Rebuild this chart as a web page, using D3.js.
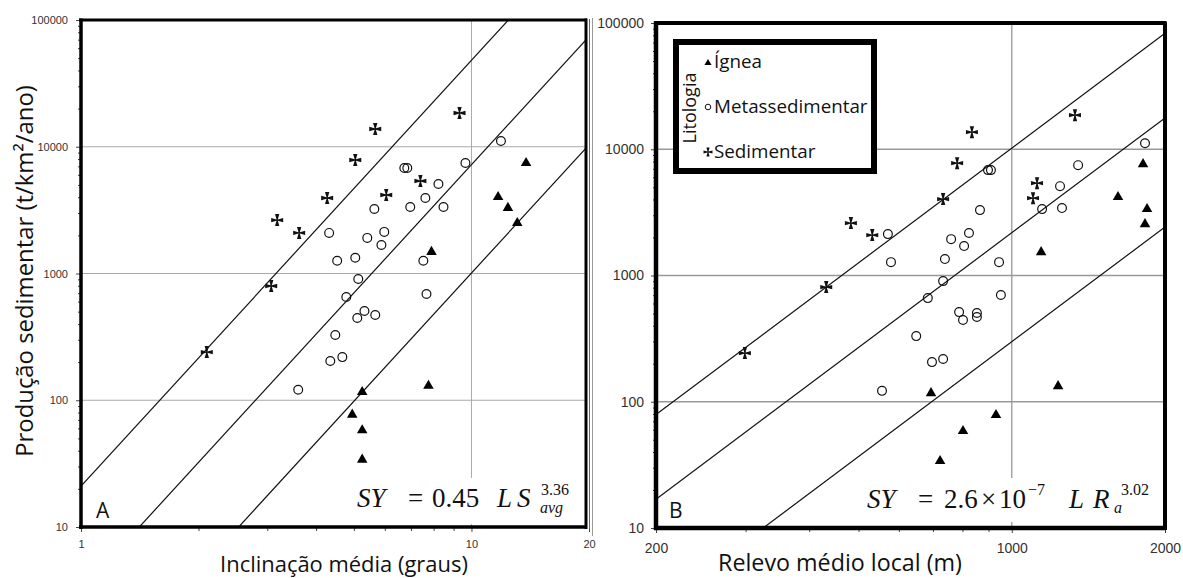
<!DOCTYPE html>
<html>
<head>
<meta charset="utf-8">
<script src="https://cdn.jsdelivr.net/npm/d3@7"></script>
<style>
  body { margin: 0; background: #fff; }
  svg { display: block; font-family: "Open Sans", sans-serif; }
</style>
</head>
<body>
<script>
var width = 1183,
  height = 578;

// ---- dados ----
// painel A: inclinacao media (graus) x producao sedimentar (t/km2/ano)
var igneaA = [[13.8,7450],[11.7,4010],[12.4,3290],[13.1,2500],[7.9,1480],[7.76,130],[5.25,116],[4.95,77],[5.25,58],[5.25,34]];
var metaA = [[11.9,11100],[9.65,7450],[6.73,6800],[6.85,6800],[8.23,5080],[7.62,3940],[6.97,3350],[8.48,3350],
  [5.64,3230],[4.32,2090],[5.41,1910],[5.98,2130],[5.88,1680],[4.53,1260],[5.04,1330],[7.53,1260],[5.13,905],
  [4.78,653],[7.67,689],[5.32,506],[5.10,446],[5.67,471],[4.48,327],[4.35,204],[4.67,219],[3.60,121]];
var sedA = [[2.10,240],[3.07,797],[3.18,2640],[3.62,2090],[4.27,3940],[5.04,7860],[5.67,13800],[6.05,4160],[7.40,5370],[9.32,18450]];
var retasA = [0.44, 3.15, 21];   // coeficientes das retas SY = c * S^expoA
var expoA = 3.36;

// painel B: relevo medio local (m) x producao sedimentar
var igneaB = [[1811,7620],[1617,4180],[1844,3360],[1827,2550],[1142,1530],[1233,133],[694,117],[931,78.5],[802,58.6],[723,33.9]];
var metaB = [[1827,11170],[1350,7480],[898,6835],[910,6835],[1244,5100],[1147,3356],[1255,3420],[866,3296],
  [571,2128],[760,1941],[824,2168],[806,1710],[579,1276],[739,1349],[944,1276],[733,903],[684,662],[952,700],
  [788,513],[802,444],[854,504],[854,469],[649,331],[697,206],[733,218],[556,122]];
var sedB = [[299,243],[432,809],[483,2600],[532,2089],[733,4027],[781,7760],[835,13650],[1101,4100],[1121,5390],[1331,18620]];
var retasB = [2.6e-7, 1.9e-6, 8.9e-6];
var expoB = 3.02;

var yTicks = [10, 100, 1000, 10000, 100000];
var yGrid = [100, 1000, 10000];
var xTicksA = [1, 10, 20];
var xTicksB = [200, 1000, 2000];
var xMinorA = [2,3,4,5,6,7,8,9];
var xMinorB = [300,400,500,600,700,800,900];

var svg = d3.select("body").append("svg")
  .attr("width", width)
  .attr("height", height);

svg.append("rect").attr("width", width).attr("height", height).attr("fill", "#fff");

var yMinor = [];
[10,100,1000,10000].forEach(function(d){
  for (var k = 2; k < 10; k++) yMinor.push(d*k);
});

// cruz patee para "Sedimentar"
function cruz(s) {
  var w = s * 0.36, c = s * 0.11;
  return "M" + (-c) + "," + (-c) + "L" + (-w) + "," + (-s) + "L" + w + "," + (-s) + "L" + c + "," + (-c)
    + "L" + s + "," + (-w) + "L" + s + "," + w + "L" + c + "," + c
    + "L" + w + "," + s + "L" + (-w) + "," + s + "L" + (-c) + "," + c
    + "L" + (-s) + "," + w + "L" + (-s) + "," + (-w) + "Z";
}
var tri = d3.symbol().type(d3.symbolTriangle);

function painel(cfg) {
  var g = svg.append("g");
  var x = d3.scaleLog().domain(cfg.xDom).range(cfg.xRange);
  var y = d3.scaleLog().domain([10, 100000]).range(cfg.yRange);
  var left = cfg.xRange[0], right = cfg.clipRight, top = cfg.yRange[1], bottom = cfg.yRange[0];

  g.append("clipPath").attr("id", "clip" + cfg.id)
    .append("rect").attr("x", left).attr("y", top).attr("width", right - left).attr("height", bottom - top);

  // grades
  g.selectAll(".gy").data(yGrid).enter().append("line")
    .attr("x1", left).attr("x2", right)
    .attr("y1", function(d){ return y(d); }).attr("y2", function(d){ return y(d); })
    .attr("stroke", cfg.grid).attr("stroke-width", cfg.gridW);
  g.append("line")
    .attr("x1", x(cfg.xGrid)).attr("x2", x(cfg.xGrid))
    .attr("y1", top).attr("y2", bottom)
    .attr("stroke", cfg.grid).attr("stroke-width", cfg.gridW);

  // caixa branca da formula
  g.append("rect").attr("x", cfg.fBox[0]).attr("y", cfg.fBox[1])
    .attr("width", cfg.fBox[2]).attr("height", cfg.fBox[3]).attr("fill", "#fff");

  // retas de regressao
  var lg = g.append("g").attr("clip-path", "url(#clip" + cfg.id + ")");
  cfg.retas.forEach(function(c){
    var xa = cfg.xDom[0] * 0.5, xb = cfg.xDom[1] * 1.5;
    lg.append("line")
      .attr("x1", x(xa)).attr("y1", y(c * Math.pow(xa, cfg.expo)))
      .attr("x2", x(xb)).attr("y2", y(c * Math.pow(xb, cfg.expo)))
      .attr("stroke", "#111").attr("stroke-width", 1.2);
  });

  // pontos
  g.selectAll(".met").data(cfg.meta).enter().append("circle")
    .attr("cx", function(d){ return x(d[0]); })
    .attr("cy", function(d){ return y(d[1]); })
    .attr("r", 4.4)
    .attr("fill", "none").attr("stroke", "#111").attr("stroke-width", 1.2);
  g.selectAll(".ign").data(cfg.ignea).enter().append("path")
    .attr("d", tri.size(48)())
    .attr("transform", function(d){ return "translate(" + x(d[0]) + "," + y(d[1]) + ")"; })
    .attr("fill", "#000");
  g.selectAll(".sed").data(cfg.sed).enter().append("path")
    .attr("d", cruz(6))
    .attr("transform", function(d){ return "translate(" + x(d[0]) + "," + y(d[1]) + ")"; })
    .attr("fill", "#111");

  // eixos
  var axY = g.append("g").attr("transform", "translate(" + left + ",0)")
    .call(d3.axisLeft(y).tickValues(yTicks).tickFormat(function(d){ return d; }).tickSize(5).tickPadding(cfg.padY));
  var axYm = g.append("g").attr("transform", "translate(" + left + ",0)")
    .call(d3.axisLeft(y).tickValues(yMinor).tickFormat("").tickSize(3));
  var axX = g.append("g").attr("transform", "translate(0," + bottom + ")")
    .call(d3.axisBottom(x).tickValues(cfg.xTicks).tickFormat(function(d){ return d; }).tickSize(5).tickPadding(cfg.padX));
  var axXm = g.append("g").attr("transform", "translate(0," + bottom + ")")
    .call(d3.axisBottom(x).tickValues(cfg.xMinor).tickFormat("").tickSize(4));
  [axY, axYm, axX, axXm].forEach(function(a){
    a.select(".domain").remove();
    a.selectAll("line").attr("stroke", "#444");
    a.selectAll("text").attr("font-family", "Liberation Sans").attr("font-size", cfg.tickFs).attr("fill", "#333");
  });

  // moldura
  g.append("line").attr("x1", left - 2).attr("x2", cfg.frameR + 1).attr("y1", top).attr("y2", top)
    .attr("stroke", "#000").attr("stroke-width", cfg.frameW);
  g.append("line").attr("x1", left - 2).attr("x2", cfg.frameR + 1).attr("y1", bottom).attr("y2", bottom)
    .attr("stroke", "#000").attr("stroke-width", cfg.frameW + 0.5);
  g.append("line").attr("x1", left).attr("x2", left).attr("y1", top - 1.5).attr("y2", bottom + 2)
    .attr("stroke", "#000").attr("stroke-width", cfg.frameW + 0.5);
  g.append("line").attr("x1", cfg.frameR).attr("x2", cfg.frameR).attr("y1", top - 1.5).attr("y2", bottom + 2)
    .attr("stroke", "#000").attr("stroke-width", cfg.frameW);

  // letra do painel
  g.append("text").attr("x", cfg.letter[0]).attr("y", cfg.letter[1])
    .attr("font-size", 21).attr("fill", "#111").text(cfg.id);

  return {x: x, y: y, g: g};
}

var A = painel({
  id: "A", xDom: [1, 20], xRange: [81, 589], yRange: [527, 20], clipRight: 586, frameR: 586, frameW: 3,
  xGrid: 10, grid: "#aaa", gridW: 1, fBox: [350, 478, 234, 46],
  retas: retasA, expo: expoA, meta: metaA, ignea: igneaA, sed: sedA,
  xTicks: xTicksA, xMinor: xMinorA, padY: 8, padX: 8, tickFs: 11, letter: [96, 518]
});
// linha fina extra na borda direita
A.g.append("line").attr("x1", 589.5).attr("x2", 589.5).attr("y1", 19).attr("y2", 529)
  .attr("stroke", "#666").attr("stroke-width", 1);

var B = painel({
  id: "B", xDom: [200, 2000], xRange: [656, 1165], yRange: [528, 23], clipRight: 1165, frameR: 1165, frameW: 4,
  xGrid: 1000, grid: "#999", gridW: 1.3, fBox: [860, 478, 300, 44],
  retas: retasB, expo: expoB, meta: metaB, ignea: igneaB, sed: sedB,
  xTicks: xTicksB, xMinor: xMinorB, padY: 7, padX: 10, tickFs: 14, letter: [669, 518]
});

// separador entre paineis
svg.append("line").attr("x1", 592.5).attr("x2", 592.5).attr("y1", 18).attr("y2", 536)
  .attr("stroke", "#999").attr("stroke-width", 1);

// formulas
function peca(t, x, y, size, italic) {
  return svg.append("text").attr("x", x).attr("y", y)
    .attr("font-family", "Liberation Serif").attr("font-size", size)
    .attr("font-style", italic ? "italic" : "normal").attr("fill", "#111").text(t);
}
peca("SY", 357, 507, 27, true);
peca("=", 408, 507, 27, false);
peca("0.45", 432, 507, 27, false);
peca("L", 497, 507, 27, true);
peca("S", 517, 507, 27, true);
peca("3.36", 541, 495, 16, false);
peca("avg", 540, 513, 16, true);

peca("SY", 867, 508, 27, true);
peca("=", 918, 508, 27, false);
peca("2.6", 944, 508, 27, false);
peca("\u00d7", 981, 508, 27, false);
peca("10", 999, 508, 27, false);
peca("\u22127", 1028, 495, 16, false);
peca("L", 1069, 508, 27, true);
peca("R", 1093, 508, 27, true);
peca("3.02", 1121, 495, 16, false);
peca("a", 1114, 513, 16, true);

// titulos dos eixos
function ajusta(t, w) {
  var l = t.node().getComputedTextLength();
  t.attr("font-size", parseFloat(t.attr("font-size")) * w / l);
}
var tx1 = svg.append("text").attr("x", 344).attr("y", 572).attr("text-anchor", "middle")
  .attr("font-size", 21).attr("fill", "#111").text("Inclinação média (graus)");
ajusta(tx1, 248);
var tx2 = svg.append("text").attr("x", 840).attr("y", 571).attr("text-anchor", "middle")
  .attr("font-size", 21).attr("fill", "#111").text("Relevo médio local (m)");
ajusta(tx2, 244);
var ty = svg.append("text").attr("transform", "translate(33,271) rotate(-90)").attr("text-anchor", "middle")
  .attr("font-size", 20).attr("fill", "#111").text("Produção sedimentar (t/km²/ano)");
ajusta(ty, 372);

// legenda
var leg = svg.append("g");
leg.append("rect").attr("x", 676).attr("y", 42).attr("width", 198).attr("height", 129)
  .attr("fill", "#fff").attr("stroke", "#000").attr("stroke-width", 6);
leg.append("text").attr("transform", "translate(696,108) rotate(-90)").attr("text-anchor", "middle")
  .attr("font-size", 18).attr("fill", "#111").text("Litologia");
var itens = ["Ígnea", "Metassedimentar", "Sedimentar"];
var itensY = [68, 113, 158];
leg.selectAll(".it").data(itens).enter().append("text")
  .attr("x", 714).attr("y", function(d, i){ return itensY[i]; })
  .attr("font-size", 18.8).attr("fill", "#111").text(function(d){ return d; });
leg.append("path").attr("d", tri.size(22)()).attr("transform", "translate(708,63)").attr("fill", "#000");
leg.append("circle").attr("cx", 708).attr("cy", 107).attr("r", 2.8)
  .attr("fill", "none").attr("stroke", "#111").attr("stroke-width", 1);
leg.append("path").attr("d", cruz(4.5)).attr("transform", "translate(708,152)").attr("fill", "#111");
</script>
</body>
</html>
